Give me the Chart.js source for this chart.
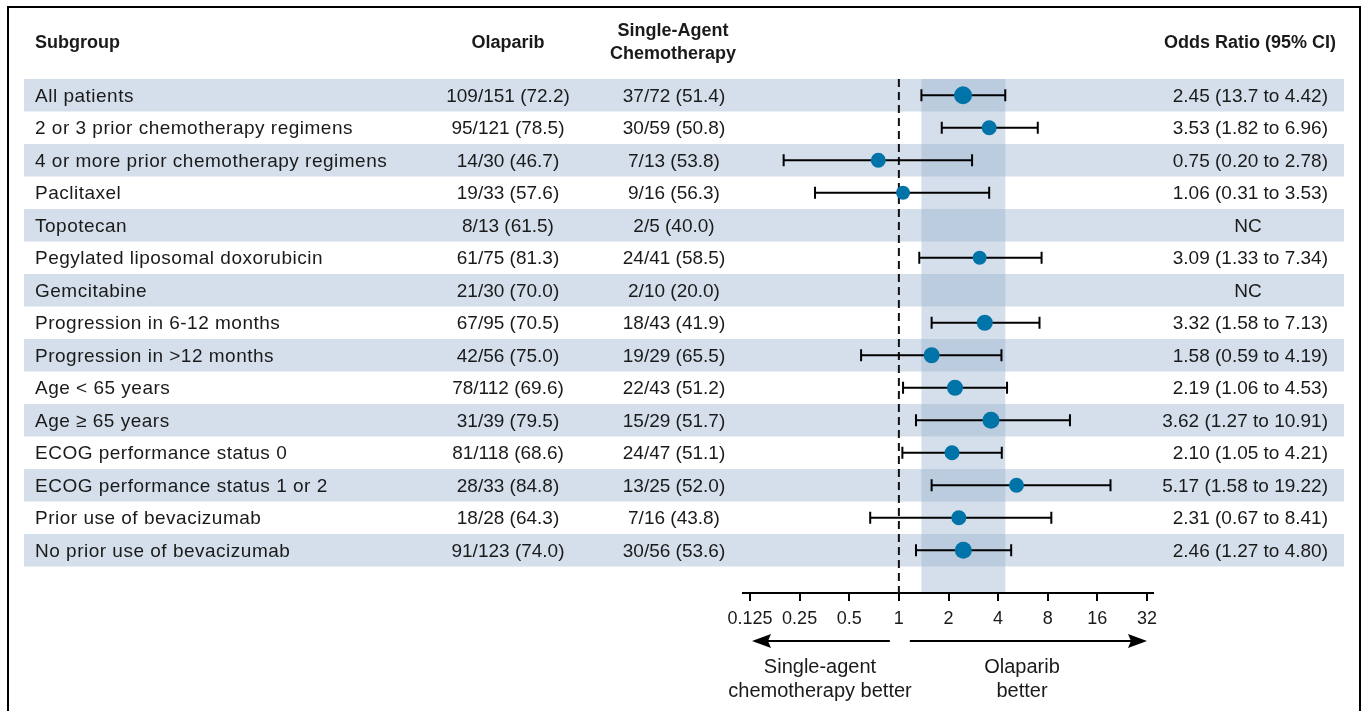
<!DOCTYPE html>
<html>
<head>
<meta charset="utf-8">
<script src="https://cdn.jsdelivr.net/npm/chart.js@4.4.1/dist/chart.umd.min.js"></script>
<style>
  html, body { margin: 0; padding: 0; background: #fff; }
  #wrap { position: relative; width: 1364px; height: 711px; }
</style>
</head>
<body>
<div id="wrap"><canvas id="forest" width="1364" height="711"></canvas></div>
<script>
// rows, top to bottom
const subgroups = [
  "All patients",
  "2 or 3 prior chemotherapy regimens",
  "4 or more prior chemotherapy regimens",
  "Paclitaxel",
  "Topotecan",
  "Pegylated liposomal doxorubicin",
  "Gemcitabine",
  "Progression in 6-12 months",
  "Progression in >12 months",
  "Age < 65 years",
  "Age \u2265 65 years",
  "ECOG performance status 0",
  "ECOG performance status 1 or 2",
  "Prior use of bevacizumab",
  "No prior use of bevacizumab"
];
const olaparib = ["109/151 (72.2)", "95/121 (78.5)", "14/30 (46.7)", "19/33 (57.6)", "8/13 (61.5)",
  "61/75 (81.3)", "21/30 (70.0)", "67/95 (70.5)", "42/56 (75.0)", "78/112 (69.6)", "31/39 (79.5)",
  "81/118 (68.6)", "28/33 (84.8)", "18/28 (64.3)", "91/123 (74.0)"];
const chemo = ["37/72 (51.4)", "30/59 (50.8)", "7/13 (53.8)", "9/16 (56.3)", "2/5 (40.0)",
  "24/41 (58.5)", "2/10 (20.0)", "18/43 (41.9)", "19/29 (65.5)", "22/43 (51.2)", "15/29 (51.7)",
  "24/47 (51.1)", "13/25 (52.0)", "7/16 (43.8)", "30/56 (53.6)"];
const oddsRatio = [2.45, 3.53, 0.75, 1.06, null, 3.09, null, 3.32, 1.58, 2.19, 3.62, 2.10, 5.17, 2.31, 2.46];
const ciLow  = [1.37, 1.82, 0.20, 0.31, null, 1.33, null, 1.58, 0.59, 1.06, 1.27, 1.05, 1.58, 0.67, 1.27];
const ciHigh = [4.42, 6.96, 2.78, 3.53, null, 7.34, null, 7.13, 4.19, 4.53, 10.91, 4.21, 19.22, 8.41, 4.80];
const orText = ["2.45 (13.7 to 4.42)", "3.53 (1.82 to 6.96)", "0.75 (0.20 to 2.78)", "1.06 (0.31 to 3.53)", "NC",
  "3.09 (1.33 to 7.34)", "NC", "3.32 (1.58 to 7.13)", "1.58 (0.59 to 4.19)", "2.19 (1.06 to 4.53)",
  "3.62 (1.27 to 10.91)", "2.10 (1.05 to 4.21)", "5.17 (1.58 to 19.22)", "2.31 (0.67 to 8.41)", "2.46 (1.27 to 4.80)"];
const markerSize = [9, 7.5, 7.5, 7, 0, 7, 0, 8, 8, 8, 8.5, 7.5, 7.5, 7.5, 8.5];
const tickValues = [0.125, 0.25, 0.5, 1, 2, 4, 8, 16, 32];
const overallCI = [1.37, 4.42];

const TXT = "#1a1a1a";
const FONT = '"Liberation Sans", Arial, sans-serif';

// NC rows have no estimate, so they get no point
const shown = oddsRatio.map((v, i) => i).filter(i => oddsRatio[i] != null);
const points = shown.map(i => ({ x: oddsRatio[i], y: i }));
const radii = shown.map(i => markerSize[i]);

const forestPlugin = {
  id: "forest",
  beforeDraw(chart) {
    const { ctx, chartArea, scales: { x, y } } = chart;
    ctx.save();
    // row stripes
    ctx.fillStyle = "#d5dfeb";
    subgroups.forEach((_, i) => {
      if (i % 2) return;
      const t = y.getPixelForValue(i - 0.5), b = y.getPixelForValue(i + 0.5);
      ctx.fillRect(24, t, 1320, b - t);
    });
    // overall CI band
    const x0 = x.getPixelForValue(overallCI[0]), x1 = x.getPixelForValue(overallCI[1]);
    ctx.fillStyle = "rgba(151,176,206,0.405)";
    ctx.fillRect(x0, chartArea.top, x1 - x0, chartArea.bottom - chartArea.top);
    ctx.restore();
  },
  beforeDatasetsDraw(chart) {
    const { ctx, chartArea, scales: { x, y } } = chart;
    ctx.save();
    // null line
    const x1 = x.getPixelForValue(1);
    ctx.strokeStyle = "#111";
    ctx.lineWidth = 2;
    ctx.setLineDash([8, 5]);
    ctx.beginPath();
    ctx.moveTo(x1, chartArea.top);
    ctx.lineTo(x1, chartArea.bottom);
    ctx.stroke();
    ctx.setLineDash([]);
    // whiskers
    ctx.strokeStyle = "#000";
    shown.forEach(i => {
      const py = y.getPixelForValue(i);
      const a = x.getPixelForValue(ciLow[i]), b = x.getPixelForValue(ciHigh[i]);
      ctx.beginPath();
      ctx.moveTo(a, py); ctx.lineTo(b, py);
      ctx.moveTo(a, py - 6); ctx.lineTo(a, py + 6);
      ctx.moveTo(b, py - 6); ctx.lineTo(b, py + 6);
      ctx.stroke();
    });
    ctx.restore();
  },
  afterDraw(chart) {
    const { ctx, scales: { x, y } } = chart;
    ctx.save();
    ctx.fillStyle = TXT;
    ctx.textBaseline = "middle";

    // headers
    ctx.font = "bold 18px " + FONT;
    ctx.textAlign = "left";
    ctx.fillText("Subgroup", 35, 43);
    ctx.textAlign = "center";
    ctx.fillText("Olaparib", 508, 43);
    ctx.fillText("Single-Agent", 673, 31);
    ctx.fillText("Chemotherapy", 673, 54);
    ctx.textAlign = "right";
    ctx.fillText("Odds Ratio (95% CI)", 1336, 43);

    // table body
    ctx.font = "19px " + FONT;
    subgroups.forEach((s, i) => {
      const py = y.getPixelForValue(i) + 1.5;
      ctx.textAlign = "left";
      ctx.letterSpacing = "0.5px";
      ctx.fillText(s, 35, py);
      ctx.letterSpacing = "0px";
      ctx.textAlign = "center";
      ctx.fillText(olaparib[i], 508, py);
      ctx.fillText(chemo[i], 674, py);
      if (orText[i] === "NC") {
        ctx.fillText("NC", 1248, py);
      } else {
        ctx.textAlign = "right";
        ctx.fillText(orText[i], 1328, py);
      }
    });

    // direction arrows
    const ay = 641;
    const p1 = x.getPixelForValue(1);
    const pl = x.getPixelForValue(tickValues[0]) + 2;
    const pr = x.getPixelForValue(tickValues[tickValues.length - 1]);
    ctx.strokeStyle = "#000";
    ctx.lineWidth = 2;
    ctx.beginPath();
    ctx.moveTo(p1 - 9, ay); ctx.lineTo(pl + 14, ay);
    ctx.moveTo(p1 + 11, ay); ctx.lineTo(pr - 14, ay);
    ctx.stroke();
    ctx.fillStyle = "#000";
    ctx.beginPath();
    ctx.moveTo(pl, ay); ctx.lineTo(pl + 19, ay - 7); ctx.lineTo(pl + 16, ay); ctx.lineTo(pl + 19, ay + 7); ctx.closePath();
    ctx.moveTo(pr, ay); ctx.lineTo(pr - 19, ay - 7); ctx.lineTo(pr - 16, ay); ctx.lineTo(pr - 19, ay + 7); ctx.closePath();
    ctx.fill();

    ctx.fillStyle = TXT;
    ctx.font = "20px " + FONT;
    ctx.textAlign = "center";
    ctx.fillText("Single-agent", 820, 667);
    ctx.fillText("chemotherapy better", 820, 691);
    ctx.fillText("Olaparib", 1022, 667);
    ctx.fillText("better", 1022, 691);

    // frame
    ctx.strokeStyle = "#000";
    ctx.lineWidth = 2;
    ctx.strokeRect(8, 7, 1352, 720);
    ctx.restore();
  }
};

new Chart(document.getElementById("forest"), {
  type: "scatter",
  data: {
    datasets: [{
      label: "Odds ratio",
      data: points,
      pointRadius: radii,
      pointHoverRadius: radii,
      pointBackgroundColor: "#0073a8",
      pointBorderWidth: 0,
      showLine: false
    }]
  },
  options: {
    responsive: false,
    animation: false,
    devicePixelRatio: 1,
    layout: { padding: { left: 743, right: 211, top: 79, bottom: 0 } },
    plugins: { legend: { display: false }, tooltip: { enabled: false } },
    scales: {
      x: {
        type: "logarithmic",
        min: 0.125 / Math.pow(2, 7 / 49.6),
        max: 32 * Math.pow(2, 6 / 49.6),
        afterBuildTicks: (s) => { s.ticks = tickValues.map(v => ({ value: v })); },
        afterFit: (s) => { s.height = 711 - 593; },
        ticks: {
          autoSkip: false,
          maxRotation: 0,
          padding: 7,
          color: TXT,
          font: { family: FONT, size: 18 },
          callback: (v) => String(v)
        },
        grid: { drawOnChartArea: false, drawTicks: true, tickLength: 8, color: "#000", lineWidth: 2 },
        border: { display: true, color: "#000", width: 2 }
      },
      y: {
        type: "linear",
        display: false,
        reverse: true,
        min: -0.5,
        max: 15.315
      }
    }
  },
  plugins: [forestPlugin]
});
</script>
</body>
</html>
